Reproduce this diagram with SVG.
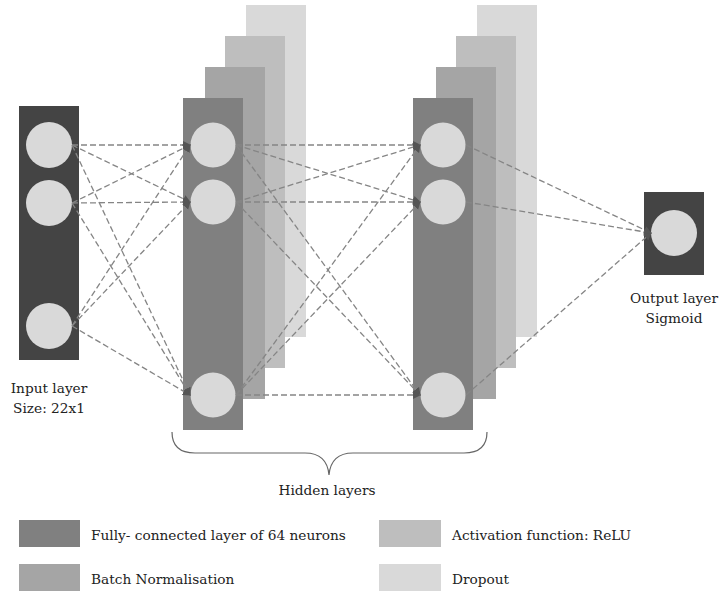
<svg xmlns="http://www.w3.org/2000/svg" width="719" height="593" viewBox="0 0 719 593">
<style>
text{font-family:'DejaVu Serif','Liberation Serif',serif;font-size:13.7px;fill:#222}
.c{text-anchor:middle}
.node{fill:#d9d9d9}
.in{fill:#444444}
.fc{fill:#808080}
.bn{fill:#a5a5a5}
.relu{fill:#bebebe}
.drop{fill:#d9d9d9}
.e{stroke:#858585;stroke-width:1.3;stroke-dasharray:6 3;fill:none;marker-end:url(#ah)}
</style>
<defs>
<marker id="ah" markerWidth="9" markerHeight="9" refX="7" refY="4.5" orient="auto" markerUnits="userSpaceOnUse">
<path d="M0,0.5 L8,4.5 L0,8.5 Z" fill="#555555"/>
</marker>
</defs>
<rect width="719" height="593" fill="#ffffff"/>

<g id="input-layer">
<rect class="in" x="19" y="106" width="60" height="254"/>
<circle class="node" cx="49" cy="145" r="23"/>
<circle class="node" cx="49" cy="203" r="23"/>
<circle class="node" cx="49" cy="326" r="23"/>
<text class="c" x="49" y="393">Input layer</text>
<text class="c" x="49" y="413">Size: 22x1</text>
</g>

<g id="hidden-layer-1">
<rect class="drop" x="246" y="5" width="60" height="332"/>
<rect class="relu" x="225" y="36" width="60" height="332"/>
<rect class="bn" x="205" y="67" width="60" height="332"/>
<rect class="fc" x="183" y="98" width="60" height="332"/>
<circle class="node" cx="213" cy="145" r="22.5"/>
<circle class="node" cx="213" cy="202" r="22.5"/>
<circle class="node" cx="213" cy="395" r="22.5"/>
</g>

<g id="hidden-layer-2">
<rect class="drop" x="477" y="5" width="60" height="332"/>
<rect class="relu" x="456" y="36" width="60" height="332"/>
<rect class="bn" x="436" y="67" width="60" height="332"/>
<rect class="fc" x="413" y="98" width="60" height="332"/>
<circle class="node" cx="443" cy="145" r="22.5"/>
<circle class="node" cx="443" cy="202" r="22.5"/>
<circle class="node" cx="443" cy="395" r="22.5"/>
</g>

<g id="output-layer">
<rect class="in" x="644" y="192" width="60" height="83"/>
<circle class="node" cx="674" cy="233" r="23"/>
<text class="c" x="674" y="303">Output layer</text>
<text class="c" x="674" y="323">Sigmoid</text>
</g>

<g id="connectors">
<line class="e" x1="72" y1="145" x2="190" y2="145"/>
<line class="e" x1="72" y1="145" x2="190" y2="202"/>
<line class="e" x1="72" y1="145" x2="190" y2="395"/>
<line class="e" x1="72" y1="203" x2="190" y2="145"/>
<line class="e" x1="72" y1="203" x2="190" y2="202"/>
<line class="e" x1="72" y1="203" x2="190" y2="395"/>
<line class="e" x1="72" y1="326" x2="190" y2="145"/>
<line class="e" x1="72" y1="326" x2="190" y2="202"/>
<line class="e" x1="72" y1="326" x2="190" y2="395"/>

<line class="e" x1="236" y1="145" x2="420" y2="145"/>
<line class="e" x1="236" y1="145" x2="420" y2="202"/>
<line class="e" x1="236" y1="145" x2="420" y2="395"/>
<line class="e" x1="236" y1="202" x2="420" y2="145"/>
<line class="e" x1="236" y1="202" x2="420" y2="202"/>
<line class="e" x1="236" y1="202" x2="420" y2="395"/>
<line class="e" x1="236" y1="395" x2="420" y2="145"/>
<line class="e" x1="236" y1="395" x2="420" y2="202"/>
<line class="e" x1="236" y1="395" x2="420" y2="395"/>

<line class="e" x1="466" y1="145" x2="651" y2="233"/>
<line class="e" x1="466" y1="202" x2="651" y2="233"/>
<line class="e" x1="466" y1="395" x2="651" y2="233"/>
</g>

<g id="hidden-brace">
<path d="M172,432 Q172,453 195,453 L305,453 Q327,453 329,475 Q331,453 353,453 L464,453 Q487,453 487,432" fill="none" stroke="#666" stroke-width="1.2"/>
<text class="c" x="327" y="495">Hidden layers</text>
</g>

<g id="legend">
<rect class="fc" x="19" y="520" width="61" height="27"/>
<text x="91" y="540">Fully- connected layer of 64 neurons</text>
<rect class="bn" x="19" y="564" width="61" height="27"/>
<text x="91" y="584">Batch Normalisation</text>
<rect class="relu" x="379" y="520" width="62" height="27"/>
<text x="452" y="540">Activation function: ReLU</text>
<rect class="drop" x="379" y="564" width="62" height="27"/>
<text x="452" y="584">Dropout</text>
</g>
</svg>
